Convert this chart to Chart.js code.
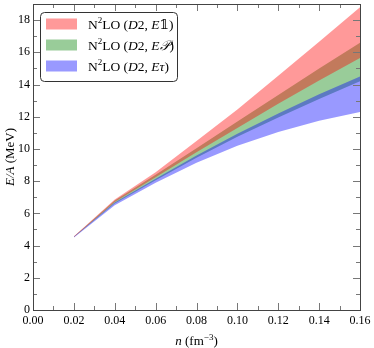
<!DOCTYPE html>
<html>
<head>
<meta charset="utf-8">
<script src="https://cdn.jsdelivr.net/npm/chart.js@4.4.1/dist/chart.umd.min.js"></script>
<style>
  body { margin: 0; background: #fff; }
  canvas { display: block; }
</style>
</head>
<body>
<canvas id="c" width="374" height="348"></canvas>
<script>
// density points (fm^-3)
const densities = [0.02, 0.04, 0.06, 0.08, 0.10, 0.12, 0.14, 0.16];

// E/A bands (MeV), lower and upper edge
const redLow    = [4.52, 6.70, 8.25, 9.80, 11.30, 12.80, 14.25, 15.65];
const redHigh   = [4.58, 6.86, 8.55, 10.50, 12.45, 14.55, 16.65, 18.80];
const greenLow  = [4.52, 6.62, 8.05, 9.45, 10.75, 11.95, 13.10, 14.20];
const greenHigh = [4.56, 6.80, 8.40, 10.05, 11.70, 13.35, 15.00, 16.60];
const blueLow   = [4.50, 6.50, 7.90, 9.15, 10.20, 11.05, 11.75, 12.30];
const blueHigh  = [4.56, 6.68, 8.15, 9.60, 10.95, 12.20, 13.40, 14.50];

const seriesNames = ['N²LO (D2, E𝟙)', 'N²LO (D2, E𝒫)', 'N²LO (D2, Eτ)'];

const xTicks = [0.00, 0.02, 0.04, 0.06, 0.08, 0.10, 0.12, 0.14, 0.16];
const yTicks = [0, 2, 4, 6, 8, 10, 12, 14, 16, 18];

const RED = 'rgba(255,0,0,0.4)';
const GREEN = 'rgba(0,128,0,0.4)';
const BLUE = 'rgba(0,0,255,0.4)';

const SERIF = '"Liberation Serif", "DejaVu Serif", serif';

function pts(ys) {
  return densities.map((x, i) => ({x: x, y: ys[i]}));
}

function band(name, low, high, color) {
  return [
    {label: name + ' low', data: pts(low), borderWidth: 0, pointRadius: 0, fill: false, tension: 0},
    {label: name, data: pts(high), borderWidth: 0, pointRadius: 0, fill: '-1', backgroundColor: color, tension: 0}
  ];
}

// draw a label with bits of math: ² -> superscript, some chars italic
function drawMath(ctx, text, x, y, size, italicChars) {
  let cx = x;
  for (const ch of text) {
    let font = size + 'px ' + SERIF;
    let dy = 0;
    let t = ch;
    if (ch === '²' || ch === '⁻' || ch === '³') {
      font = Math.round(size * 0.7) + 'px ' + SERIF;
      dy = -size * 0.4;
      t = ch === '²' ? '2' : ch === '³' ? '3' : '−';
    } else if (italicChars.includes(ch)) {
      font = 'italic ' + size + 'px ' + SERIF;
    }
    ctx.font = font;
    ctx.fillText(t, cx, y + dy);
    cx += ctx.measureText(t).width;
  }
  return cx - x;
}

function mathWidth(ctx, text, size, italicChars) {
  ctx.save();
  ctx.globalAlpha = 0;
  const w = drawMath(ctx, text, 0, 0, size, italicChars);
  ctx.restore();
  return w;
}

const decor = {
  id: 'decor',
  afterDraw(chart) {
    const ctx = chart.ctx;
    const a = chart.chartArea;
    const xs = chart.scales.x, ys = chart.scales.y;
    ctx.save();
    // tick marks, inward on all sides
    ctx.strokeStyle = '#777';
    ctx.lineWidth = 1;
    ctx.beginPath();
    for (let i = 0; i < xTicks.length; i++) {
      const px = Math.round(xs.getPixelForValue(xTicks[i])) + 0.5;
      ctx.moveTo(px, a.bottom); ctx.lineTo(px, a.bottom - 7);
      ctx.moveTo(px, a.top); ctx.lineTo(px, a.top + 7);
      if (i < xTicks.length - 1) {
        const pm = Math.round(xs.getPixelForValue((xTicks[i] + xTicks[i + 1]) / 2)) + 0.5;
        ctx.moveTo(pm, a.bottom); ctx.lineTo(pm, a.bottom - 4);
        ctx.moveTo(pm, a.top); ctx.lineTo(pm, a.top + 4);
      }
    }
    for (let v = 0; v <= 19; v++) {
      const py = Math.round(ys.getPixelForValue(v)) + 0.5;
      const len = v % 2 === 0 ? 7 : 4;
      ctx.moveTo(a.left, py); ctx.lineTo(a.left + len, py);
      ctx.moveTo(a.right, py); ctx.lineTo(a.right - len, py);
    }
    ctx.stroke();
    // frame
    ctx.strokeStyle = '#444';
    ctx.strokeRect(Math.round(a.left) + 0.5, Math.round(a.top) + 0.5,
                   Math.round(a.right - a.left), Math.round(a.bottom - a.top));

    // legend box
    const bx = 40.5, by = 12.5, bw = 137, bh = 69, r = 4;
    ctx.beginPath();
    ctx.roundRect(bx, by, bw, bh, r);
    ctx.fillStyle = 'rgba(255,255,255,0.85)';
    ctx.fill();
    ctx.strokeStyle = '#333';
    ctx.stroke();
    const colors = [RED, GREEN, BLUE];
    ctx.textBaseline = 'alphabetic';
    for (let i = 0; i < seriesNames.length; i++) {
      const cy = 24 + i * 21;
      ctx.fillStyle = colors[i];
      ctx.fillRect(46, cy - 5.5, 31, 11);
      ctx.fillStyle = '#000';
      drawMath(ctx, seriesNames[i], 88, cy + 4.5, 13.5, ['D', 'E', 'τ', '𝒫']);
    }

    // axis titles
    ctx.fillStyle = '#000';
    const xt = 'n (fm⁻³)';
    const xw = mathWidth(ctx, xt, 13, ['n']);
    drawMath(ctx, xt, (a.left + a.right) / 2 - xw / 2, 345, 13, ['n']);

    const yt = 'E/A (MeV)';
    const yw = mathWidth(ctx, yt, 13, ['E', '/', 'A']);
    ctx.translate(14, (a.top + a.bottom) / 2);
    ctx.rotate(-Math.PI / 2);
    drawMath(ctx, yt, -yw / 2, 0, 13, ['E', '/', 'A']);
    ctx.restore();
  }
};

const datasets = [].concat(
  band(seriesNames[0], redLow, redHigh, RED),
  band(seriesNames[2], blueLow, blueHigh, BLUE),
  band(seriesNames[1], greenLow, greenHigh, GREEN)
);

new Chart(document.getElementById('c'), {
  type: 'line',
  data: {datasets: datasets},
  options: {
    responsive: false,
    animation: false,
    devicePixelRatio: 1,
    layout: {padding: {top: 4, right: 14, left: 0, bottom: 0}},
    plugins: {legend: {display: false}, tooltip: {enabled: false}},
    scales: {
      x: {
        type: 'linear', min: 0, max: 0.16,
        grid: {display: false, drawTicks: false},
        border: {display: false},
        afterBuildTicks: s => { s.ticks = xTicks.map(v => ({value: v})); },
        afterFit: s => { s.height = 38; s.paddingLeft = 0; s.paddingRight = 0; },
        ticks: {
          autoSkip: false, maxRotation: 0, padding: 4, color: '#000',
          font: {family: SERIF, size: 12},
          callback: v => v.toFixed(2)
        }
      },
      y: {
        type: 'linear', min: 0, max: 19,
        grid: {display: false, drawTicks: false},
        border: {display: false},
        afterBuildTicks: s => { s.ticks = yTicks.map(v => ({value: v})); },
        afterFit: s => { s.width = 33; s.paddingTop = 0; s.paddingBottom = 0; },
        ticks: {
          autoSkip: false, padding: 3, color: '#000',
          font: {family: SERIF, size: 12},
          callback: v => String(v)
        }
      }
    }
  },
  plugins: [decor]
});
</script>
</body>
</html>
